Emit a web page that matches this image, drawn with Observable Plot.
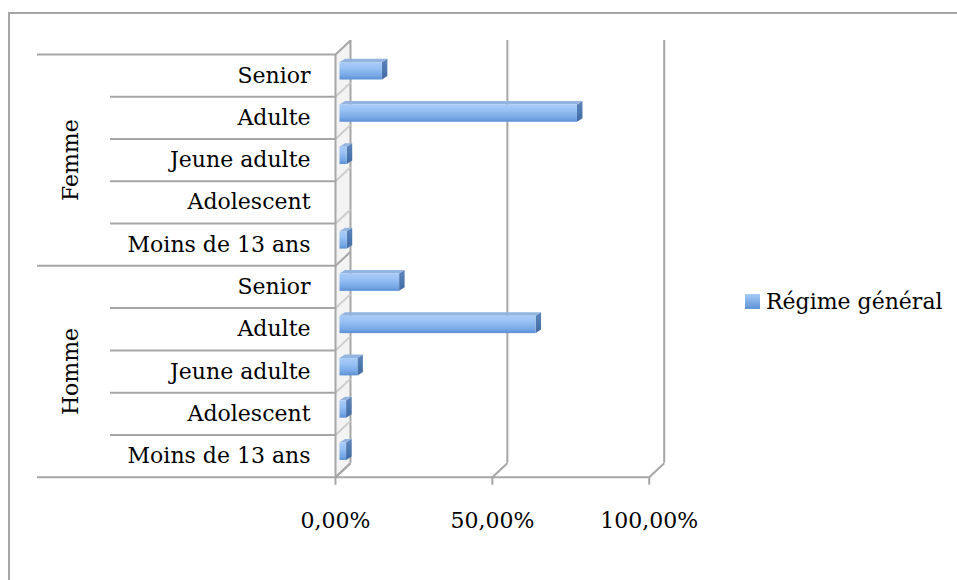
<!DOCTYPE html>
<html>
<head>
<meta charset="utf-8">
<script src="https://cdn.jsdelivr.net/npm/d3@7"></script>
<script src="https://cdn.jsdelivr.net/npm/@observablehq/plot@0.6"></script>
<style>
  html, body { margin: 0; padding: 0; background: #fff; overflow: hidden; }
  #wrap { position: relative; width: 957px; height: 580px; overflow: hidden; }
  #border { position: absolute; left: 8px; top: 12px; width: 980px; height: 620px; border: 2px solid #a6a6a6; box-sizing: border-box; }
  #chart { position: absolute; left: 0; top: 0; }
  #legend { position: absolute; left: 745px; top: 289px; display: flex; align-items: center;
            font-family: "DejaVu Serif", serif; font-size: 22px; color: #000; }
  #legend .sw { width: 15px; height: 15px; margin-right: 6px; background: linear-gradient(#a7cbf7, #5d92d6); }
</style>
</head>
<body>
<div id="wrap">
  <div id="border"></div>
  <div id="chart"></div>
  <div id="legend"><span class="sw"></span><span id="legendText"></span></div>
</div>
<script>
// ---- data ----
const groups = ["Homme", "Femme"];
const ageClasses = ["Moins de 13 ans", "Adolescent", "Jeune adulte", "Adulte", "Senior"];
const hommeValues = [0.021, 0.021, 0.057, 0.625, 0.19];
const femmeValues = [0.023, 0, 0.023, 0.757, 0.135];
const xTicks = [0, 0.5, 1];
const xTickLabels = ["0,00%", "50,00%", "100,00%"];
const seriesName = "Régime général";

document.getElementById("legendText").textContent = seriesName;

// rows: index 0 at the bottom (Homme / Moins de 13 ans)
const rows = groups.flatMap((g, gi) =>
  ageClasses.map((a, ai) => ({
    group: g, age: a, r: gi * ageClasses.length + ai,
    value: (gi === 0 ? hommeValues : femmeValues)[ai]
  }))
);
const nRows = rows.length;

// ---- scales ----
const X = {domain: [0, 1], range: [335, 648.7]};
const Y = {domain: [0, nRows], range: [476.7, 54]};
const xs = Plot.scale({x: X});
const pxPerX = (X.range[1] - X.range[0]) / (X.domain[1] - X.domain[0]);
const pxPerRow = (Y.range[0] - Y.range[1]) / (Y.domain[1] - Y.domain[0]);
const hx = (px) => px / pxPerX;     // horizontal pixels -> data units
const hy = (px) => -px / pxPerRow;  // vertical pixels (down positive) -> data units

// 3D depth (pixels)
const WALL_DX = 15, WALL_DY = -14;
const BAR_DX = 4.5, BAR_DY = -4.3;
const BAR_DEPTH_X = 5.5, BAR_DEPTH_Y = -3.5;
const barHalf = 0.205;

const gridColor = "#a6a6a6";
const bars = rows.filter(d => d.value > 0);
const topPts = bars.flatMap(d => [
  {id: d.r, y: d.r + 0.5 + barHalf, x1: 0, x2: d.value},
  {id: d.r, y: d.r + 0.5 + barHalf + hy(BAR_DEPTH_Y), x1: hx(BAR_DEPTH_X), x2: d.value + hx(BAR_DEPTH_X)}
]);
const sidePts = bars.flatMap(d => [
  {id: d.r, x: d.value, y1: d.r + 0.5 - barHalf, y2: d.r + 0.5 + barHalf},
  {id: d.r, x: d.value + hx(BAR_DEPTH_X), y1: d.r + 0.5 - barHalf + hy(BAR_DEPTH_Y), y2: d.r + 0.5 + barHalf + hy(BAR_DEPTH_Y)}
]);
// left wall polygon (parallelogram between front axis and back wall)
const wallPts = [
  {x: 0, y1: 0, y2: nRows},
  {x: hx(WALL_DX), y1: hy(WALL_DY), y2: nRows + hy(WALL_DY)}
];

const boundaries = d3.range(0, nRows + 1);
const groupBounds = boundaries.filter(k => k % ageClasses.length === 0);
const subBounds = boundaries.filter(k => k % ageClasses.length !== 0);
const groupColumnX = xs.invert(37);
const labelColumnX = xs.invert(110);

const svg = Plot.plot({
  width: 957,
  height: 580,
  marginLeft: 37,
  marginRight: 957 - 648.7,
  marginTop: 54,
  marginBottom: 580 - 476.7,
  x: {...X, axis: null},
  y: {...Y, axis: null},
  style: {fontFamily: "DejaVu Serif, serif", fontSize: "22px", background: "transparent", color: "#000"},
  marks: [
    // left wall faint shading
    Plot.areaY(wallPts, {x: "x", y1: "y1", y2: "y2", fill: "#f3f3f3"}),
    // back wall gridlines
    Plot.ruleX(xTicks, {x: d => d, y1: 0, y2: nRows, dx: WALL_DX, dy: WALL_DY, stroke: gridColor, strokeWidth: 2}),
    // left wall diagonals at category boundaries
    Plot.link(subBounds, {x1: 0, y1: d => d, x2: hx(WALL_DX), y2: d => d + hy(WALL_DY), stroke: "#cdcdcd", strokeWidth: 2}),
    Plot.link(groupBounds, {x1: 0, y1: d => d, x2: hx(WALL_DX), y2: d => d + hy(WALL_DY), stroke: gridColor, strokeWidth: 2}),
    // floor diagonals
    Plot.link(xTicks, {x1: d => d, y1: 0, x2: d => d + hx(WALL_DX), y2: hy(WALL_DY), stroke: gridColor, strokeWidth: 2}),
    // front vertical axis
    Plot.ruleX([0], {y1: 0, y2: nRows, stroke: gridColor, strokeWidth: 2}),
    // category separators
    Plot.ruleY(groupBounds, {x1: groupColumnX, x2: 0, stroke: gridColor, strokeWidth: 2}),
    Plot.ruleY(subBounds, {x1: labelColumnX, x2: 0, stroke: gridColor, strokeWidth: 2}),
    // floor front edge / x axis line
    Plot.ruleY([0], {x1: 0, x2: 1, stroke: gridColor, strokeWidth: 2}),
    // x ticks
    Plot.ruleX(xTicks, {x: d => d, y1: 0, y2: hy(8), stroke: gridColor, strokeWidth: 2}),
    // bars: side, top, front
    Plot.areaY(sidePts, {x: "x", y1: "y1", y2: "y2", z: "id", fill: "url(#gSide)", dx: BAR_DX, dy: BAR_DY}),
    Plot.areaX(topPts, {y: "y", x1: "x1", x2: "x2", z: "id", fill: "#92b4df", dx: BAR_DX, dy: BAR_DY}),
    Plot.rect(bars, {x1: 0, x2: "value", y1: d => d.r + 0.5 - barHalf, y2: d => d.r + 0.5 + barHalf,
                     fill: "url(#gFront)", dx: BAR_DX, dy: BAR_DY}),
    // labels
    Plot.text(rows, {x: 0, y: d => d.r + 0.5, text: "age", dx: -25, textAnchor: "end", fill: "#000"}),
    Plot.text(groups, {x: 0, y: (d, i) => i * ageClasses.length + ageClasses.length / 2, text: d => d,
                       dx: -265, rotate: -90, fill: "#000"}),
    Plot.text(xTicks, {x: d => d, y: 0, dy: 44, text: (d, i) => xTickLabels[i], fill: "#000"})
  ]
});

// gradient definitions for the 3D bar faces
const NS = "http://www.w3.org/2000/svg";
const defs = document.createElementNS(NS, "defs");
function grad(id, stops) {
  const g = document.createElementNS(NS, "linearGradient");
  g.setAttribute("id", id);
  g.setAttribute("x1", "0"); g.setAttribute("y1", "0");
  g.setAttribute("x2", "0"); g.setAttribute("y2", "1");
  for (const [o, c] of stops) {
    const s = document.createElementNS(NS, "stop");
    s.setAttribute("offset", o);
    s.setAttribute("stop-color", c);
    g.appendChild(s);
  }
  defs.appendChild(g);
}
grad("gFront", [[0, "#a9ccf8"], [0.35, "#97c1f4"], [0.8, "#74a5e4"], [1, "#5b8fd3"]]);
grad("gSide", [[0, "#5d86bd"], [1, "#3f6aa3"]]);
svg.insertBefore(defs, svg.firstChild);

document.getElementById("chart").appendChild(svg);
</script>
</body>
</html>
